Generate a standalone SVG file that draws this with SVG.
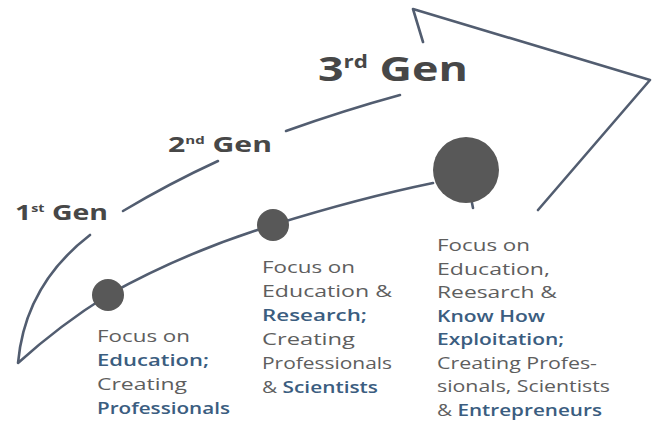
<svg xmlns="http://www.w3.org/2000/svg" width="652" height="425" viewBox="0 0 652 425">
<style>
.ln{fill:none;stroke:#525d70;stroke-width:2.6;stroke-linecap:round;stroke-linejoin:round}
.dot{fill:#585858}
.t{font-family:"Open Sans","DejaVu Sans","Liberation Sans",sans-serif;font-size:16.5px;fill:#5e5e5e}
.b{fill:#3b5d80;font-weight:600}
.g{font-family:"Open Sans","DejaVu Sans","Liberation Sans",sans-serif;font-weight:700;fill:#474747}
.sup{font-size:0.5em}
</style>
<rect width="652" height="425" fill="#ffffff"/>
<g id="connectors">
<path class="ln" d="M90,235 Q25,285 18,363 Q60,325 108,295 Q185,252 273,225 Q360,198 433,183"/>
<path class="ln" d="M123,211 Q170,183 218,161"/>
<path class="ln" d="M286,131 Q345,110 400,95"/>
<path class="ln" d="M423,42 L413,9 L650,80 L538,210"/>
<path class="ln" d="M472,203 L473,208"/>
</g>
<g id="gen1">
<text class="g" x="15" y="220" font-size="21" textLength="93" lengthAdjust="spacingAndGlyphs">1<tspan class="sup" dy="-8">st</tspan><tspan dy="8"> Gen</tspan></text>
</g>
<g id="gen2">
<text class="g" x="168" y="152" font-size="21" textLength="104" lengthAdjust="spacingAndGlyphs">2<tspan class="sup" dy="-8">nd</tspan><tspan dy="8"> Gen</tspan></text>
</g>
<g id="gen3">
<text class="g" x="318" y="81" font-size="34" textLength="150" lengthAdjust="spacingAndGlyphs">3<tspan class="sup" dy="-13">rd</tspan><tspan dy="13"> Gen</tspan></text>
</g>
<g id="node1">
<circle class="dot" cx="108" cy="295" r="16"/>
<text class="t" x="97" y="342" textLength="93" lengthAdjust="spacingAndGlyphs">Focus on</text>
<text class="t b" x="97" y="366" textLength="112" lengthAdjust="spacingAndGlyphs">Education;</text>
<text class="t" x="97" y="390" textLength="90" lengthAdjust="spacingAndGlyphs">Creating</text>
<text class="t b" x="97" y="414" textLength="133" lengthAdjust="spacingAndGlyphs">Professionals</text>
</g>
<g id="node2">
<circle class="dot" cx="273" cy="225" r="16"/>
<text class="t" x="262" y="273" textLength="93" lengthAdjust="spacingAndGlyphs">Focus on</text>
<text class="t" x="262" y="297" textLength="130" lengthAdjust="spacingAndGlyphs">Education &amp;</text>
<text class="t b" x="262" y="321" textLength="105" lengthAdjust="spacingAndGlyphs">Research;</text>
<text class="t" x="262" y="345" textLength="93" lengthAdjust="spacingAndGlyphs">Creating</text>
<text class="t" x="262" y="369" textLength="130" lengthAdjust="spacingAndGlyphs">Professionals</text>
<text class="t" x="262" y="393" textLength="116" lengthAdjust="spacingAndGlyphs">&amp; <tspan class="b">Scientists</tspan></text>
</g>
<g id="node3">
<circle class="dot" cx="466" cy="170" r="33"/>
<text class="t" x="437" y="251" textLength="93" lengthAdjust="spacingAndGlyphs">Focus on</text>
<text class="t" x="437" y="274.5" textLength="113" lengthAdjust="spacingAndGlyphs">Education,</text>
<text class="t" x="437" y="298" textLength="120" lengthAdjust="spacingAndGlyphs">Reesarch &amp;</text>
<text class="t b" x="437" y="321.5" textLength="108" lengthAdjust="spacingAndGlyphs">Know How</text>
<text class="t b" x="437" y="345" textLength="127" lengthAdjust="spacingAndGlyphs">Exploitation;</text>
<text class="t" x="437" y="368.5" textLength="160" lengthAdjust="spacingAndGlyphs">Creating Profes-</text>
<text class="t" x="437" y="392" textLength="173" lengthAdjust="spacingAndGlyphs">sionals, Scientists</text>
<text class="t" x="437" y="415.5" textLength="165" lengthAdjust="spacingAndGlyphs">&amp; <tspan class="b">Entrepreneurs</tspan></text>
</g>
</svg>
